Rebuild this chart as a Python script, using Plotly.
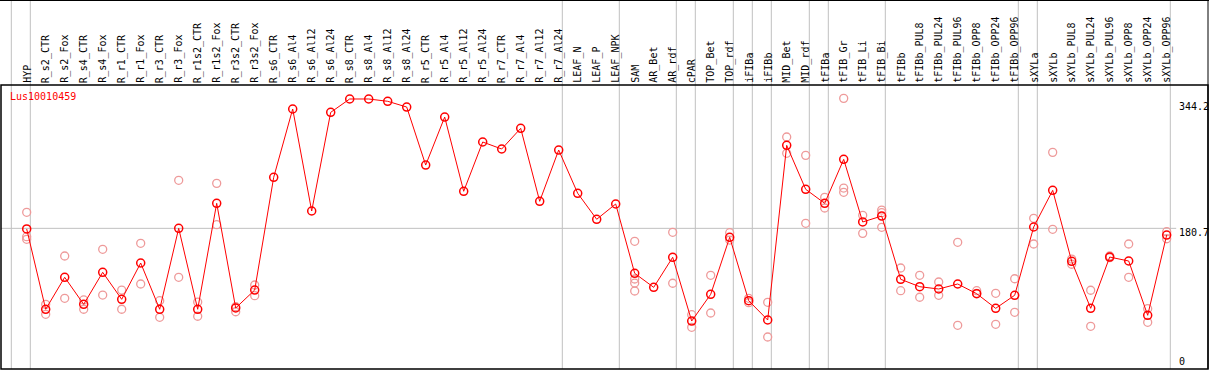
import plotly.graph_objects as go

categories = ["HYP", "R_s2_CTR", "R_s2_Fox", "R_s4_CTR", "R_s4_Fox", "R_r1_CTR", "R_r1_Fox",
              "R_r3_CTR", "R_r3_Fox", "R_r1s2_CTR", "R_r1s2_Fox", "R_r3s2_CTR", "R_r3s2_Fox",
              "R_s6_CTR", "R_s6_Al4", "R_s6_Al12", "R_s6_Al24", "R_s8_CTR", "R_s8_Al4", "R_s8_Al12",
              "R_s8_Al24", "R_r5_CTR", "R_r5_Al4", "R_r5_Al12", "R_r5_Al24", "R_r7_CTR", "R_r7_Al4",
              "R_r7_Al12", "R_r7_Al24", "LEAF_N", "LEAF_P", "LEAF_NPK", "SAM", "AR_Bet", "AR_rdf",
              "cPAR", "TOP_Bet", "TOP_rdf", "iFIBa", "iFIBb", "MID_Bet", "MID_rdf", "tFIBa",
              "tFIB_Gr", "tFIB_Li", "tFIB_Bi", "tFIBb", "tFIBb_PUL8", "tFIBb_PUL24", "tFIBb_PUL96",
              "tFIBb_OPP8", "tFIBb_OPP24", "tFIBb_OPP96", "sXYLa", "sXYLb", "sXYLb_PUL8",
              "sXYLb_PUL24", "sXYLb_PUL96", "sXYLb_OPP8", "sXYLb_OPP24", "sXYLb_OPP96"]

mean_values = [179.9, 78.9, 119.1, 85.1, 125.4, 91.4, 137.1, 78.9, 180.7, 78.9, 212.2, 80.5, 103.1,
               244.9, 330.8, 202.5, 326.6, 343.4, 343.4, 340.5, 333.3, 260.3, 320.7, 227.3, 289.3,
               280.5, 306.5, 214.7, 279.2, 224.8, 192.1, 211.3, 124.1, 106.5, 144.3, 64.1, 97.7,
               169.4, 89.7, 65.4, 285.1, 229.8, 212.2, 267.5, 188.7, 196.2, 116.6, 107.3, 104.4,
               110.7, 98.5, 80.1, 96.5, 182.4, 228.5, 139.2, 80.1, 144.6, 139.6, 71.3, 172.3]

replicates = [
    [200.9, 170.2, 166.9], [85.1, 72.6], [145.9, 92.7], [90.6, 78.9], [154.3, 96.8],
    [103.1, 78.9], [161.9, 110.7], [89.7, 68.8], [241.1, 119.1], [88.0, 70.1],
    [237.3, 185.3], [82.1, 75.8], [109.4, 96.0],
    [], [], [], [], [], [], [], [], [], [], [], [], [], [], [], [],
    [], [], [],
    [164.4, 117.0, 111.9, 101.9], [], [175.7, 111.6], [72.1, 56.2], [121.6, 74.2],
    [175.2, 166.0], [92.7, 87.2], [87.7, 44.0], [295.6, 275.1], [272.5, 187.0],
    [219.7, 206.3], [344.2, 231.4, 226.0], [197.1, 174.4], [203.7, 200.4, 182.0],
    [130.8, 102.3], [121.6, 94.0], [113.2, 96.5], [163.1, 58.7], [102.3, 99.0],
    [99.0, 60.0], [117.3, 75.1], [193.3, 161.0], [276.3, 179.5], [142.1, 135.5],
    [102.8, 57.5], [145.9, 143.8], [161.0, 119.1], [79.6, 62.5], [176.5, 167.6],
]

group_breaks = [-1, 0, 28, 31, 34, 35, 37, 38, 39, 41, 42, 45, 52, 53, 60]
y_ticks = [0, 180.7, 344.2]
gene_label = "Lus10010459"

W, H = 1209, 370
ML, MR, MT, MB = 1, 1, 85, 1
plot_w = W - ML - MR
plot_h = H - MT - MB
xr = [-1.3526, 62.174]
yr = [3.77, 361.0]

def xpaper(xv):
    return (xv - xr[0]) / (xr[1] - xr[0])

idx = list(range(len(categories)))
rep_x, rep_y = [], []
for i, reps in enumerate(replicates):
    for v in reps:
        rep_x.append(i)
        rep_y.append(v)

fig = go.Figure()
fig.add_trace(go.Scatter(x=rep_x, y=rep_y, mode="markers",
                         marker=dict(symbol="circle-open", size=8, color="#EE9A9A",
                                     line=dict(width=1.3, color="#EE9A9A")),
                         hoverinfo="skip", showlegend=False))
fig.add_trace(go.Scatter(x=idx, y=mean_values, mode="lines+markers",
                         line=dict(color="#FF0000", width=1),
                         marker=dict(symbol="circle-open", size=8, color="#FF0000",
                                     line=dict(width=1.5, color="#FF0000")),
                         showlegend=False))

top_paper = 1 + MT / plot_h
shapes = []
for b in group_breaks:
    xp = xpaper(b + 0.19)
    shapes.append(dict(type="line", xref="paper", yref="paper", x0=xp, x1=xp, y0=0, y1=top_paper,
                       line=dict(color="#C0C0C0", width=1), layer="below"))
# gridline at middle tick
shapes.append(dict(type="line", xref="paper", yref="y", x0=0, x1=xpaper(60.5), y0=y_ticks[1],
                   y1=y_ticks[1], line=dict(color="#C0C0C0", width=1), layer="below"))
# header frame lines
shapes.append(dict(type="line", xref="paper", yref="paper", x0=-ML / plot_w, x1=1 + MR / plot_w,
                   y0=top_paper - 0.5 / plot_h, y1=top_paper - 0.5 / plot_h, line=dict(color="black", width=1)))
shapes.append(dict(type="line", xref="paper", yref="paper", x0=1, x1=1, y0=0, y1=top_paper,
                   line=dict(color="black", width=1)))
shapes.append(dict(type="rect", xref="paper", yref="paper", x0=0, x1=1, y0=0, y1=1,
                   line=dict(color="black", width=1.5)))

annotations = []
mono = "DejaVu Sans Mono"
for i, c in enumerate(categories):
    annotations.append(dict(x=i, xref="x", y=1, yref="paper", text=c, showarrow=False,
                            textangle=-90, xanchor="center", yanchor="bottom", yshift=1,
                            borderpad=0, font=dict(family=mono, size=10, color="black")))
annotations.append(dict(x=(9.3 - ML) / plot_w, xref="paper", y=(369 - 96.7) / plot_h, yref="paper",
                        text=gene_label, showarrow=False, xanchor="left", yanchor="middle",
                        borderpad=0, font=dict(family=mono, size=10, color="#FF0000")))
tick_px = {0: 361.7, 180.7: 232.3, 344.2: 106.7}
for t in y_ticks:
    annotations.append(dict(x=(1178 - ML) / plot_w, xref="paper", y=(369 - tick_px[t]) / plot_h,
                            yref="paper", text=str(t), showarrow=False, xanchor="left",
                            yanchor="middle", borderpad=0,
                            font=dict(family=mono, size=10, color="black")))

fig.update_layout(width=W, height=H,
                  margin=dict(l=ML, r=MR, t=MT, b=MB, pad=0, autoexpand=False),
                  paper_bgcolor="white", plot_bgcolor="white",
                  xaxis=dict(range=xr, showgrid=False, zeroline=False, showticklabels=False,
                             ticks="", automargin=False),
                  yaxis=dict(range=yr, showgrid=False, zeroline=False, showticklabels=False,
                             ticks="", automargin=False),
                  shapes=shapes, annotations=annotations)

fig.write_html("out.html", config={"displayModeBar": False},
               post_script="document.body.style.margin='0';document.body.style.overflow='hidden';")
